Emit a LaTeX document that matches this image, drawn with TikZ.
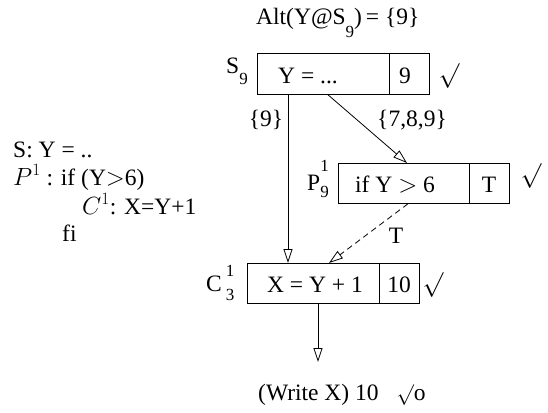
\documentclass[tikz,border=0pt]{standalone}
\usepackage{fontspec}
\setmainfont{Liberation Serif}
\usetikzlibrary{arrows.meta,calc}
\newcommand{\sm}[1]{{\fontsize{17}{17}\selectfont #1}}
\newcommand{\ck}{{\fontsize{21}{21}\selectfont$\surd$}}
\begin{document}
\begin{tikzpicture}[x=1pt,y=-1pt,
  cell/.style={draw, line width=0.8pt, inner sep=0pt, anchor=north west, minimum height=40pt},
  txt/.style={inner sep=0pt, font=\fontsize{23.5}{28}\selectfont},
  bl/.style={txt, anchor=base},
  blw/.style={txt, anchor=base west},
  arr/.style={-{Triangle[open,length=14pt,width=9pt]}, line width=0.8pt},
  dsh/.style={dash pattern=on 6pt off 4pt},
  chk/.style={inner sep=0pt, font=\fontsize{23}{26}\selectfont}]
\useasboundingbox (0,0) rectangle (548,412);
% title
\node[blw] (alt) at (256,25) {Alt(Y@S\raisebox{-13pt}{\sm{9}})\,= \{9\}};
% S box
\node[cell, minimum width=132pt, minimum height=41pt] (SL) at (257,53) {};
\node[cell, minimum width=40pt, minimum height=41pt] (SR) at (389,53) {};
\node[bl] (Stxt) at (308,83) {Y = ...};
\node[bl] (Sval) at (405,83) {9};
\node[blw] (Slab) at (226,74) {S\raisebox{-10pt}{\sm{9}}};
\node[chk] (Schk) at (449,76) {$\surd$};
% P box
\node[cell, minimum width=131pt] (PL) at (338,163) {};
\node[cell, minimum width=40pt] (PR) at (469,163) {};
\node[bl] (Ptxt) at (395,192) {if Y $>$ 6};
\node[bl] (Pval) at (489,192) {T};
\node[blw] (Plab) at (307,190) {P\rlap{\raisebox{19pt}{\sm{1}}}\raisebox{-7pt}{\sm{9}}};
\node[chk] (Pchk) at (531,176) {$\surd$};
% C box
\node[cell, minimum width=132pt] (CL) at (247,263) {};
\node[cell, minimum width=40pt] (CR) at (379,263) {};
\node[bl] (Ctxt) at (315,292) {X = Y + 1};
\node[bl] (Cval) at (399,292) {10};
\node[blw] (Clab) at (206,291) {C\,\rlap{\raisebox{15pt}{\sm{1}}}\raisebox{-9pt}{\sm{3}}};
\node[chk] (Cchk) at (433,285) {$\surd$};
% bottom
\node[blw] (wr) at (258,400) {(Write X) 10\hspace{18pt}\ck o};
\coordinate (wend) at (318,362);
% connectors
\draw[arr] ([xshift=31pt]SL.south west) -- ([xshift=31pt]SL.south west |- CL.north);
\draw[arr] ([xshift=71pt]SL.south west) -- ([xshift=69pt]PL.north west);
\draw[arr, dsh] ([xshift=70pt]PL.south west) -- ([xshift=82pt]CL.north west);
\draw[arr] ([xshift=71pt]CL.south west) -- (wend);
% edge labels
\node[txt] (l9) at (266,120) {\{9\}};
\node[txt] (l789) at (412,120) {\{7,8,9\}};
\node[txt] (lT) at (396,236) {T};
% left program text
\node[blw] (p1) at (13,157) {S: Y = ..};
\node[blw] (p2) at (13,185) {$P^1$\ : if (Y$>$6)};
\node[blw] (p3) at (82,214) {$C^1$: X=Y+1};
\node[blw] (p4) at (62,241) {fi};
\end{tikzpicture}
\end{document}
